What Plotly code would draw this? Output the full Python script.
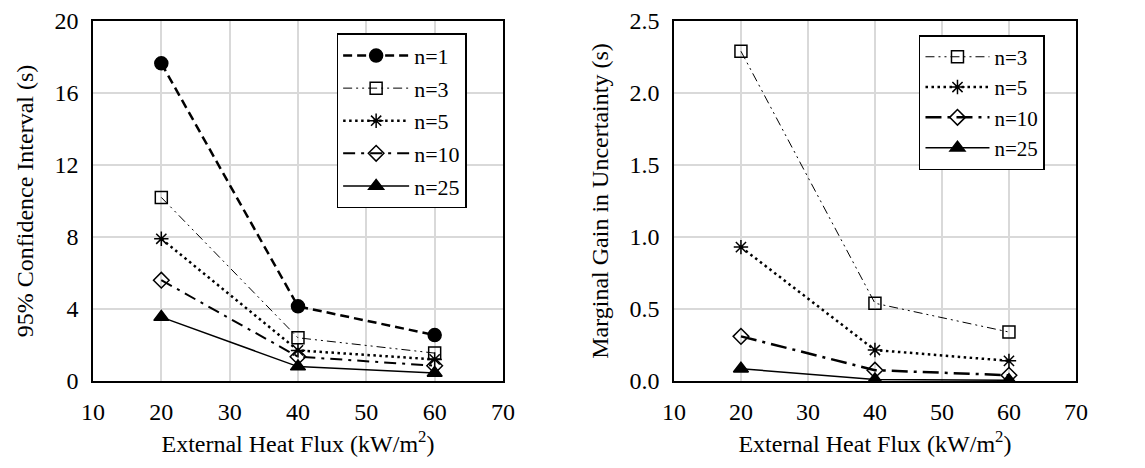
import plotly.graph_objects as go

flux = [20, 40, 60]

# Left chart: 95% confidence interval (s)
ci_n1 = [17.65, 4.15, 2.55]
ci_n3 = [10.2, 2.4, 1.55]
ci_n5 = [7.9, 1.7, 1.2]
ci_n10 = [5.6, 1.35, 0.85]
ci_n25 = [3.55, 0.8, 0.45]

# Right chart: marginal gain in uncertainty (s)
mg_n3 = [2.29, 0.54, 0.34]
mg_n5 = [0.93, 0.215, 0.14]
mg_n10 = [0.31, 0.075, 0.04]
mg_n25 = [0.085, 0.01, 0.005]

x_ticks = [10, 20, 30, 40, 50, 60, 70]
left_ticks = [0, 4, 8, 12, 16, 20]
right_ticks = [0.0, 0.5, 1.0, 1.5, 2.0, 2.5]

FONT = "Liberation Serif"

styles = {
    "n=1": dict(dash="9px,5px", width=2.5, symbol="circle", size=13),
    "n=3": dict(dash="9px,4px,2px,4px,2px,4px", width=1, symbol="square-open", size=12),
    "n=5": dict(dash="2.5px,3.5px", width=2.5, symbol="asterisk-open", size=12),
    "n=10": dict(dash="12px,6px,3px,6px", width=2, symbol="diamond-open", size=12),
    "n=25": dict(dash="solid", width=1.5, symbol="triangle-up", size=13),
}

fig = go.Figure()

def add(name, y, xa, ya, legend, group=True, width_override=None, dash_override=None):
    s = styles[name]
    w = width_override if width_override else s["width"]
    d = dash_override if dash_override else s["dash"]
    fig.add_trace(go.Scatter(
        x=flux, y=y, name=name, mode="lines+markers",
        line=dict(color="black", width=w, dash=d),
        marker=dict(symbol=s["symbol"], size=s["size"], color="black",
                    line=dict(color="black", width=1.5)),
        xaxis=xa, yaxis=ya, legend=legend,
        legendgroup=(legend + name) if group else None,
    ))

for nm, yv in [("n=1", ci_n1), ("n=3", ci_n3), ("n=5", ci_n5), ("n=10", ci_n10), ("n=25", ci_n25)]:
    add(nm, yv, "x", "y", "legend")

add("n=3", mg_n3, "x2", "y2", "legend2", group=False)
add("n=5", mg_n5, "x2", "y2", "legend2", group=False)
add("n=10", mg_n10, "x2", "y2", "legend2", group=False, width_override=2.5, dash_override="16px,6px,3px,6px")
add("n=25", mg_n25, "x2", "y2", "legend2", group=False)

def f(size):
    return dict(family=FONT, size=size, color="black")

axis_common = dict(
    showline=True, linecolor="black", linewidth=1.5, mirror=True,
    showgrid=True, gridcolor="#d9d9d9", gridwidth=1.5,
    zeroline=False, ticks="", automargin=False,
    tickfont=f(24),
)

xtitle = dict(text="External Heat Flux (kW/m<sup>2</sup>)", font=f(24), standoff=12)

fig.update_layout(
    width=1145, height=468,
    margin=dict(l=0, r=0, t=0, b=0),
    font=f(22),
    paper_bgcolor="white", plot_bgcolor="white",
    showlegend=True,
    xaxis=dict(domain=[0.0812, 0.4393], range=[10, 70], tickvals=x_ticks,
               ticklabelstandoff=8, title=xtitle, anchor="y", **axis_common),
    yaxis=dict(domain=[0.1859, 0.9551], range=[0, 20], tickvals=left_ticks,
               ticklabelstandoff=8, anchor="x",
               title=dict(text="95% Confidence Interval (s)", font=f(24), standoff=14),
               **axis_common),
    xaxis2=dict(domain=[0.5886, 0.9397], range=[10, 70], tickvals=x_ticks,
                ticklabelstandoff=8, title=xtitle, anchor="y2", **axis_common),
    yaxis2=dict(domain=[0.1859, 0.9551], range=[0, 2.5], tickvals=right_ticks,
                tickformat=".1f", ticklabelstandoff=8, anchor="x2",
                title=dict(text="Marginal Gain in Uncertainty (s)", font=f(24), standoff=14),
                **axis_common),
    legend=dict(x=0.294, y=0.929, xanchor="left", yanchor="top",
                bgcolor="white", bordercolor="black", borderwidth=1.5,
                font=f(22), itemwidth=66, tracegroupgap=1),
    legend2=dict(x=0.8026, y=0.925, xanchor="left", yanchor="top",
                 bgcolor="white", bordercolor="black", borderwidth=1.5,
                 font=f(21), itemwidth=64),
)

fig.write_html("out.html")
